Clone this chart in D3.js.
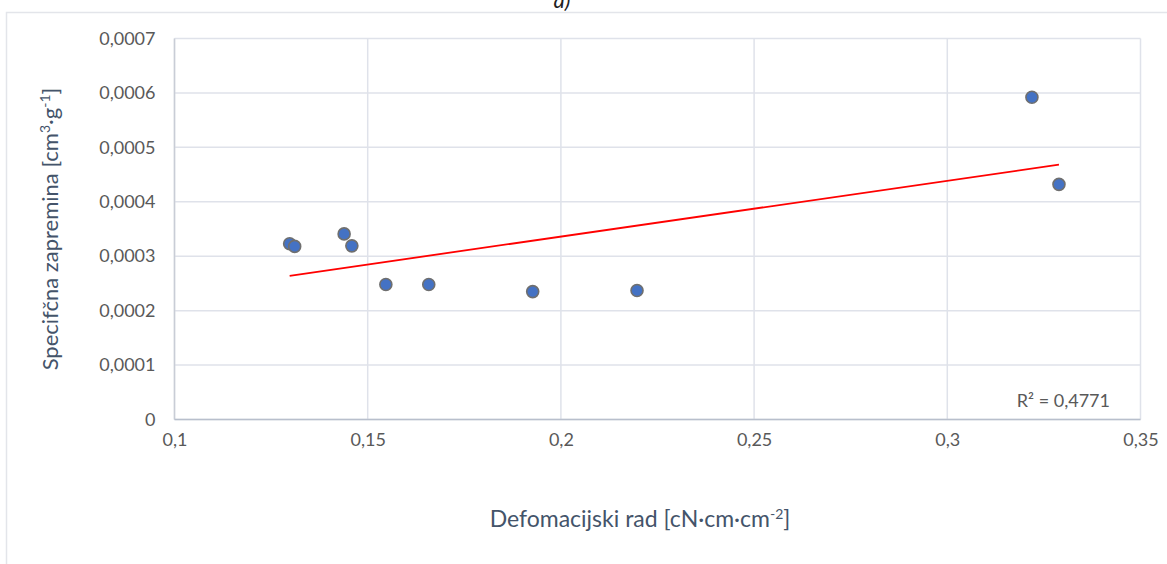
<!DOCTYPE html>
<html><head><meta charset="utf-8">
<script src="https://cdn.jsdelivr.net/npm/d3@7"></script>
<style>
body{margin:0;background:#fff;}
svg{display:block;font-family:Lato,"Open Sans",sans-serif;}
</style></head>
<body>
<svg id="c" width="1167" height="564"></svg>
<script>
const xValues = [0.1298, 0.1311, 0.1439, 0.1459, 0.1547, 0.1658, 0.1927, 0.2197, 0.3219, 0.3289];
const yValues = [0.000323, 0.000318, 0.000341, 0.000319, 0.000248, 0.000248, 0.000235, 0.000237, 0.000592, 0.000432];
const xTicks = [0.1, 0.15, 0.2, 0.25, 0.3, 0.35];
const yTicks = [0, 0.0001, 0.0002, 0.0003, 0.0004, 0.0005, 0.0006, 0.0007];
const r2Label = "R² = 0,4771";

const svg = d3.select("#c");
const L = 174.5, R = 1140.5, T = 38.5, B = 419.5;
const x = d3.scaleLinear().domain([0.1, 0.35]).range([L, R]);
const y = d3.scaleLinear().domain([0, 0.0007]).range([B, T]);
const fmt = v => String(v).replace(".", ",");
const txt = "#595959";
const ff = "Lato,'Open Sans',sans-serif";

// outer chart border
svg.append("rect").attr("x", 6.5).attr("y", 12.5).attr("width", 1200).attr("height", 600)
  .attr("fill", "none").attr("stroke", "#e3e5ea").attr("stroke-width", 1.5);

// title (partly cut at the top, as in the source)
svg.append("text").attr("x", 562).attr("y", 8).attr("text-anchor", "middle")
  .attr("font-style", "italic").attr("font-size", 22).attr("fill", "#222").text("a)");

// gridlines
svg.append("g").selectAll("line").data(yTicks).join("line")
  .attr("x1", L).attr("x2", R).attr("y1", d => y(d)).attr("y2", d => y(d))
  .attr("stroke", "#dfe2ea").attr("stroke-width", 1.5);
svg.append("g").selectAll("line").data(xTicks).join("line")
  .attr("y1", T).attr("y2", B).attr("x1", d => x(d)).attr("x2", d => x(d))
  .attr("stroke", "#dfe2ea").attr("stroke-width", 1.5);

// axis lines
svg.append("line").attr("x1", L).attr("x2", L).attr("y1", T).attr("y2", B)
  .attr("stroke", "#c9cdd6").attr("stroke-width", 1.5);
svg.append("line").attr("x1", L).attr("x2", R).attr("y1", B).attr("y2", B)
  .attr("stroke", "#b8bfcc").attr("stroke-width", 1.5);

// axes tick labels via d3 axes
const xAxis = svg.append("g").attr("transform", `translate(0,${B})`)
  .call(d3.axisBottom(x).tickValues(xTicks).tickFormat(fmt).tickSize(0).tickPadding(14));
xAxis.select(".domain").remove();
xAxis.selectAll("text").attr("fill", txt).attr("font-size", 18).attr("font-family", ff);

const yAxis = svg.append("g").attr("transform", `translate(${L},0)`)
  .call(d3.axisLeft(y).tickValues(yTicks).tickFormat(fmt).tickSize(0).tickPadding(19));
yAxis.select(".domain").remove();
yAxis.selectAll("text").attr("fill", txt).attr("font-size", 18).attr("font-family", ff);

// axis titles
const xt = svg.append("text").attr("x", 640).attr("y", 527).attr("text-anchor", "middle")
  .attr("fill", "#44546a").attr("font-size", 23);
xt.append("tspan").text("Defomacijski rad [cN·cm·cm");
xt.append("tspan").attr("font-size", 14).attr("dy", -8).text("-2");
xt.append("tspan").attr("dy", 8).text("]");

const yt = svg.append("text").attr("transform", "translate(58,229) rotate(-90)").attr("text-anchor", "middle")
  .attr("fill", "#44546a").attr("font-size", 22);
yt.append("tspan").text("Specifčna zapremina [cm");
yt.append("tspan").attr("font-size", 14).attr("dy", -8).text("3");
yt.append("tspan").attr("dy", 8).text("·g");
yt.append("tspan").attr("font-size", 14).attr("dy", -8).text("-1");
yt.append("tspan").attr("dy", 8).text("]");

// linear regression trendline
const n = xValues.length;
const mx = d3.mean(xValues), my = d3.mean(yValues);
let sxy = 0, sxx = 0;
for (let i = 0; i < n; i++) { sxy += (xValues[i]-mx)*(yValues[i]-my); sxx += (xValues[i]-mx)**2; }
const slope = sxy / sxx, icpt = my - slope * mx;
const [x0, x1] = d3.extent(xValues);
svg.append("line").attr("x1", x(x0)).attr("x2", x(x1))
  .attr("y1", y(icpt + slope * x0)).attr("y2", y(icpt + slope * x1))
  .attr("stroke", "#ff0000").attr("stroke-width", 1.8);

// points
svg.append("g").selectAll("circle").data(xValues.map((v, i) => [v, yValues[i]])).join("circle")
  .attr("cx", d => x(d[0])).attr("cy", d => y(d[1])).attr("r", 6)
  .attr("fill", "#4472c4").attr("stroke", "#6f6f6f").attr("stroke-width", 1.6);

// R² label
svg.append("text").attr("x", 1110).attr("y", 407).attr("text-anchor", "end")
  .attr("fill", txt).attr("font-size", 18).attr("font-family", ff).text(r2Label);
</script>
</body></html>
